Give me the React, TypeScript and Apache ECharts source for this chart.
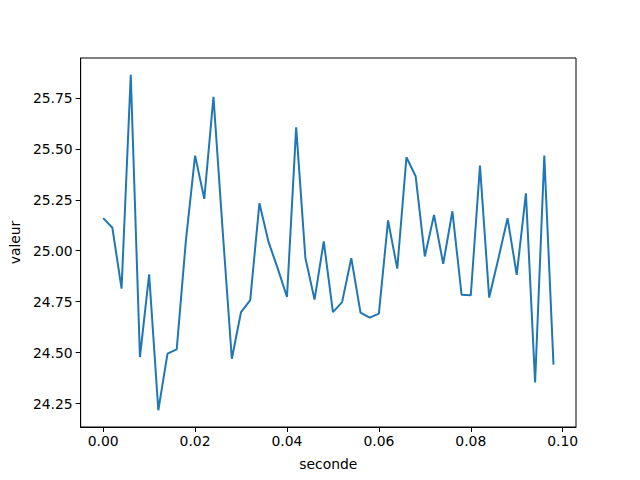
import React, { useEffect, useRef } from "react";
import * as echarts from "echarts";

const xValues: number[] = Array.from({ length: 50 }, (_, i) => +(i * 0.002).toFixed(3));
const yValues: number[] = [
  25.16, 25.113, 24.814, 25.864, 24.478, 24.884, 24.217, 24.495, 24.516, 25.05,
  25.467, 25.255, 25.756, 25.1, 24.47, 24.699, 24.758, 25.233, 25.042, 24.912,
  24.773, 25.606, 24.966, 24.76, 25.046, 24.699, 24.748, 24.964, 24.696, 24.672,
  24.691, 25.149, 24.912, 25.459, 25.366, 24.972, 25.176, 24.936, 25.194, 24.784,
  24.781, 25.418, 24.77, 24.961, 25.16, 24.882, 25.282, 24.353, 25.467, 24.441,
];
const xTicks: number[] = [0, 0.02, 0.04, 0.06, 0.08, 0.1];
const yTicks: number[] = [24.25, 24.5, 24.75, 25.0, 25.25, 25.5, 25.75];

export default function App() {
  const ref = useRef<HTMLDivElement>(null);
  useEffect(() => {
    if (!ref.current) return;
    const chart = echarts.init(ref.current, undefined, { renderer: "svg" });
    const font = "DejaVu Sans";
    const xmin = Math.min(...xValues), xmax = Math.max(...xValues);
    const ymin = Math.min(...yValues), ymax = Math.max(...yValues);
    const xm = (xmax - xmin) * 0.05, ym = (ymax - ymin) * 0.05;
    chart.setOption({
      animation: false,
      grid: {
        left: 80, right: 64, top: 58, bottom: 53,
        show: true, borderColor: "#000", borderWidth: 1, backgroundColor: "#fff",
      },
      xAxis: {
        type: "value",
        min: xmin - xm, max: xmax + xm,
        name: "seconde", nameLocation: "middle", nameGap: 30,
        nameTextStyle: { fontFamily: font, fontSize: 13.9, color: "#000" },
        axisLine: { show: true, onZero: false, lineStyle: { color: "#000", width: 1 } },
        axisTick: { show: true, inside: false, length: 5, lineStyle: { color: "#000" }, customValues: xTicks },
        axisLabel: {
          fontFamily: font, fontSize: 13.9, color: "#000", margin: 7,
          customValues: xTicks, formatter: (v: number) => v.toFixed(2),
        },
        splitLine: { show: false },
      },
      yAxis: {
        type: "value",
        min: ymin - ym, max: ymax + ym,
        name: "valeur", nameLocation: "middle", nameGap: 58,
        nameTextStyle: { fontFamily: font, fontSize: 13.9, color: "#000" },
        axisLine: { show: true, onZero: false, lineStyle: { color: "#000", width: 1 } },
        axisTick: { show: true, inside: false, length: 5, lineStyle: { color: "#000" }, customValues: yTicks },
        axisLabel: {
          fontFamily: font, fontSize: 13.9, color: "#000", margin: 8,
          customValues: yTicks, formatter: (v: number) => v.toFixed(2),
        },
        splitLine: { show: false },
      },
      series: [
        {
          type: "line",
          data: xValues.map((x, i) => [x, yValues[i]]),
          showSymbol: false,
          lineStyle: { color: "#1f77b4", width: 2 },
          itemStyle: { color: "#1f77b4" },
        },
      ],
    });
    return () => chart.dispose();
  }, []);
  return <div ref={ref} style={{ width: 640, height: 480, position: "absolute", left: 0, top: 0, background: "#fff" }} />;
}
